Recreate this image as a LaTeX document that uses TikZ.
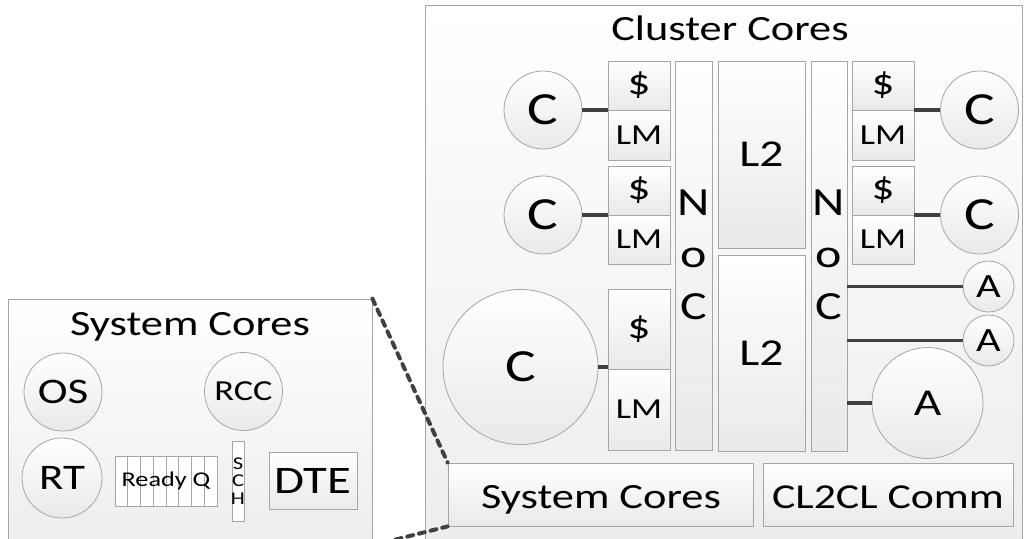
\documentclass[tikz,border=0pt]{standalone}
\usepackage{fontspec}
\setmainfont{Carlito}[FakeStretch=1.25]

\definecolor{edge}{HTML}{A6A6A6}
\definecolor{link}{HTML}{404040}
\definecolor{shade}{HTML}{E9E9E9}
\definecolor{panelshade}{HTML}{EDEDED}

\tikzset{
  fs/.style={font=\fontsize{#1}{#1}\selectfont},
  panel/.style={draw=edge, line width=0.8pt, top color=white, bottom color=panelshade},
  part/.style={rectangle, draw=edge, line width=0.8pt, top color=white, bottom color=shade, inner sep=0pt},
  plain/.style={rectangle, draw=edge, line width=0.8pt, fill=white, inner sep=0pt},
  core/.style={circle, draw=edge, line width=0.8pt, top color=white, bottom color=shade, inner sep=0pt},
  wire/.style={draw=link, line width=3.5pt},
  zoomline/.style={draw=link, line width=4pt, dash pattern=on 6pt off 6pt, line cap=round},
}

% rectangle node given by its corners: name, style, x1, y1, x2, y2, text
\newcommand{\rectnode}[7]{%
  \node[#2, minimum width={#5-#3}, minimum height={#6-#4}] (#1)
    at ({(#3+#5)/2},{(#4+#6)/2}) {#7};}

\begin{document}
\begin{tikzpicture}[x=1pt, y=-1pt]
\useasboundingbox (0,0) rectangle (1024,538);
\clip (0,0) rectangle (1024,538);

% ---------- panels ----------
\rectnode{syspanel}{panel}{8}{299}{372}{545}{}
\rectnode{clpanel}{panel}{425}{5}{1022}{545}{}

\node[fs=35.5, anchor=base] (systitle) at (190,335) {System Cores};
\node[fs=35.5, anchor=base] (cltitle) at (730,40) {Cluster Cores};

% ---------- system cores ----------
\node[core, minimum size=78, fs=36] (os) at (63,392) {OS};
\node[core, minimum size=78, fs=29] (rcc) at (243.5,391.5) {RCC};
\node[core, minimum size=80, fs=36] (rt) at (62,478) {RT};
\rectnode{readyq}{plain}{115}{456}{217}{506}{}
\foreach \k in {1,...,7}
  \draw[edge, line width=0.6pt] ({115+12.75*\k},456) -- ({115+12.75*\k},506);
\node[fs=21] (rqlabel) at (readyq) {Ready Q};
\rectnode{sch}{plain}{232}{441}{244}{521}{}
\node[font=\fontsize{18}{17.5}\selectfont, align=center] (schlabel) at (sch) {S\\C\\H};
\rectnode{dte}{part}{269}{452}{357}{509}{\fontsize{39}{39}\selectfont DTE}

% ---------- cluster: left column ----------
\node[core, minimum size=78, fs=46] (c1) at (543,110) {C};
\node[core, minimum size=78, fs=46] (c2) at (543,215) {C};
\node[core, minimum size=155, fs=46] (c3) at (520.5,367) {C};

\rectnode{d1}{part}{608}{61}{670}{110}{\fontsize{36}{36}\selectfont\$}
\rectnode{lm1}{part}{608}{110}{670}{160}{\fontsize{29}{29}\selectfont LM}
\rectnode{d2}{part}{608}{166}{670}{215}{\fontsize{36}{36}\selectfont\$}
\rectnode{lm2}{part}{608}{215}{670}{264}{\fontsize{29}{29}\selectfont LM}
\rectnode{d3}{part}{608}{289}{670}{369}{\fontsize{36}{36}\selectfont\$}
\rectnode{lm3}{part}{608}{369}{670}{450}{\fontsize{29}{29}\selectfont LM}

% ---------- cluster: interconnect and L2 ----------
\rectnode{noc1}{part}{675}{61}{712}{450}{}
\node[font=\fontsize{40}{52}\selectfont, align=center] (noc1label) at (693.5,255) {N\\o\\C};
\rectnode{l2a}{part}{718}{61}{805}{248}{\fontsize{38}{38}\selectfont L2}
\rectnode{l2b}{part}{718}{255}{805}{451}{\fontsize{38}{38}\selectfont L2}
\rectnode{noc2}{part}{811}{61}{847}{451}{}
\node[font=\fontsize{40}{52}\selectfont, align=center] (noc2label) at (829,255) {N\\o\\C};

% ---------- cluster: right column ----------
\rectnode{d4}{part}{852}{61}{914}{110}{\fontsize{36}{36}\selectfont\$}
\rectnode{lm4}{part}{852}{110}{914}{160}{\fontsize{29}{29}\selectfont LM}
\rectnode{d5}{part}{852}{166}{914}{215}{\fontsize{36}{36}\selectfont\$}
\rectnode{lm5}{part}{852}{215}{914}{264}{\fontsize{29}{29}\selectfont LM}
\node[core, minimum size=78, fs=46] (c4) at (979.5,110) {C};
\node[core, minimum size=78, fs=46] (c5) at (979.5,215) {C};

\node[core, minimum size=51, fs=34] (a1) at (988.5,286.5) {A};
\node[core, minimum size=51, fs=34] (a2) at (988.5,340.5) {A};
\node[core, minimum size=111, fs=38] (a3) at (927.5,403) {A};

% ---------- bottom row ----------
\rectnode{scbox}{part}{448}{463}{753}{526}{}
\node[fs=35.5, anchor=base] (sclabel) at (601,508) {System Cores};
\rectnode{cl2cl}{part}{763}{463}{1013}{526}{}
\node[fs=35, anchor=base] (cl2cllabel) at (888,508) {CL2CL Comm};

% ---------- wires ----------
\draw[wire] (c1.east) -- (c1.east -| d1.west);
\draw[wire] (c2.east) -- (c2.east -| d2.west);
\draw[wire] (c3.east) -- (c3.east -| d3.west);
\draw[wire] (c4.west) -- (c4.west -| d4.east);
\draw[wire] (c5.west) -- (c5.west -| d5.east);
\draw[wire] (a1.west -| noc2.east) -- (a1.west);
\draw[wire] (a2.west -| noc2.east) -- (a2.west);
\draw[wire] (a3.west -| noc2.east) -- (a3.west);

% ---------- zoom guides ----------
\draw[zoomline] (syspanel.north east) -- (scbox.north west);
\draw[zoomline] (syspanel.south east) -- (scbox.south west);
\end{tikzpicture}
\end{document}
